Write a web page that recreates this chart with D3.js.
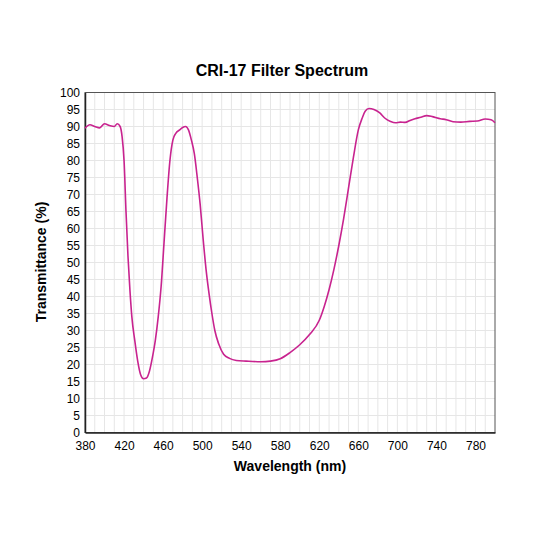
<!DOCTYPE html>
<html><head><meta charset="utf-8">
<script src="https://cdn.jsdelivr.net/npm/d3@7"></script>
<style>body{margin:0;background:#fff}svg{font-family:"Liberation Sans",Arial,sans-serif}</style>
</head><body><svg id="c" width="533" height="533"></svg>
<script>
const wavelength=[380,385,390,395,400,405,410,413,416,418,420,422,424,426,428,431,434,437,440,443,446,449,452,455,458,461,464,467,470,473,477,480,483,486,489,492,495,498,501,504,507,510,513,517,522,528,535,545,560,570,580,590,600,610,620,625,630,635,640,645,650,655,660,664,667,671,676,682,687,693,698,703,708,713,718,724,730,736,744,750,757,765,774,782,790,796,800];
const transmittance=[89.5,90.5,90,89.6,90.8,90.3,90,90.8,90,87,80,65,52,42,34,27,21,17,15.8,16,18,22,27,34,43,56,69,80,86,88,89,89.7,90,89,86,82,75,67,57,48,41,35,30,26,23,21.8,21.2,21,20.8,21,21.7,23.5,25.8,28.8,33,37,42,48,55,63,72,81,89,92.5,94.5,95.3,95,94,92.5,91.5,91.1,91.3,91.2,91.8,92.3,92.7,93.2,92.9,92.3,92,91.4,91.3,91.5,91.6,92.2,92,91.1];
const xTicks=[380,420,460,500,540,580,620,660,700,740,780];
const yTicks=d3.range(0,101,5);
const svg=d3.select("#c");
const m={l:85,r:495,t:92.5,b:432.5};
const x=d3.scaleLinear().domain([380,800]).range([m.l,m.r]);
const y=d3.scaleLinear().domain([0,100]).range([m.b,m.t]);
const g=svg.append("g");
g.selectAll(".vg").data(d3.range(390,800,10)).join("line").attr("x1",d=>x(d)).attr("x2",d=>x(d)).attr("y1",m.t).attr("y2",m.b).attr("stroke","#e6e6e6");
g.selectAll(".hg").data(d3.range(5,100,5)).join("line").attr("y1",d=>y(d)).attr("y2",d=>y(d)).attr("x1",m.l).attr("x2",m.r).attr("stroke","#e6e6e6");
svg.append("rect").attr("x",m.l).attr("y",m.t).attr("width",m.r-m.l).attr("height",m.b-m.t).attr("fill","none").attr("stroke","#555").attr("stroke-width",1);
const xa=svg.append("g").attr("transform",`translate(0,${m.b})`).call(d3.axisBottom(x).tickValues(xTicks).tickSize(0).tickPadding(9));
const ya=svg.append("g").attr("transform",`translate(${m.l},0)`).call(d3.axisLeft(y).tickValues(yTicks).tickSize(0).tickPadding(13));
[xa,ya].forEach(a=>{a.select(".domain").attr("stroke","#222").attr("stroke-width",1.5);a.selectAll("text").attr("font-size",12).attr("fill","#000").attr("font-family","Liberation Sans, Arial, sans-serif");});
ya.selectAll("text").attr("x",-5);
svg.append("path").datum(wavelength.map((w,i)=>[w,transmittance[i]])).attr("fill","none").attr("stroke","#c8238f").attr("stroke-width",1.6)
 .attr("d",d3.line().x(d=>x(d[0])).y(d=>y(d[1])).curve(d3.curveMonotoneX));
svg.append("text").attr("x",282).attr("y",76).attr("text-anchor","middle").attr("font-size",16).attr("font-weight","bold").text("CRI-17 Filter Spectrum");
svg.append("text").attr("x",290).attr("y",471).attr("text-anchor","middle").attr("font-size",14).attr("font-weight","bold").text("Wavelength (nm)");
svg.append("text").attr("transform","translate(46,262) rotate(-90)").attr("text-anchor","middle").attr("font-size",14).attr("font-weight","bold").text("Transmittance (%)");
</script></body></html>
